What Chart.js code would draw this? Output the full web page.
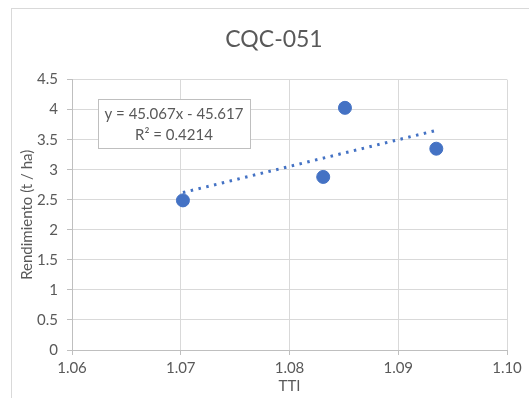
<!DOCTYPE html>
<html>
<head>
<meta charset="utf-8">
<script src="https://cdn.jsdelivr.net/npm/chart.js@4"></script>
<style>
  html, body { margin: 0; padding: 0; background: #fff; }
  #wrap { width: 529px; height: 398px; position: relative; }
</style>
</head>
<body>
<div id="wrap"><canvas id="chart" width="529" height="398"></canvas></div>
<script>
// données
const tti = [1.0702, 1.0831, 1.0851, 1.0935];
const rendimiento = [2.49, 2.88, 4.03, 3.35];
const xTicks = [1.06, 1.07, 1.08, 1.09, 1.10];
const equationLines = ['y = 45.067x - 45.617', 'R² = 0.4214'];

const grey = '#595959';
const blue = '#4472C4';

// droite de tendance (moindres carrés) entre le min et le max de x
function trendPoints(xs, ys) {
    const n = xs.length;
    const mx = xs.reduce((a, b) => a + b, 0) / n;
    const my = ys.reduce((a, b) => a + b, 0) / n;
    let sxy = 0, sxx = 0;
    xs.forEach((x, i) => { sxy += (x - mx) * (ys[i] - my); sxx += (x - mx) * (x - mx); });
    const slope = sxy / sxx;
    const b = my - slope * mx;
    const x0 = Math.min(...xs), x1 = Math.max(...xs);
    return [{ x: x0, y: slope * x0 + b }, { x: x1, y: slope * x1 + b }];
}

const cadre = {
    id: 'cadre',
    afterLayout(chart) {
        // le titre est centré sur le cadre Excel, pas sur la zone du graphique
        chart.titleBlock.left += 30;
    },
    beforeDraw(chart) {
        const ctx = chart.ctx;
        ctx.save();
        ctx.fillStyle = '#fff';
        ctx.fillRect(0, 0, chart.width, chart.height);
        ctx.strokeStyle = '#d9d9d9';
        ctx.lineWidth = 1;
        ctx.strokeRect(11.5, 8.5, chart.width + 10, chart.height + 10);
        ctx.restore();
    }
};

const equation = {
    id: 'equation',
    afterDraw(chart) {
        const ctx = chart.ctx;
        ctx.save();
        ctx.fillStyle = '#fff';
        ctx.fillRect(98, 99, 152, 49);
        ctx.strokeStyle = '#bfbfbf';
        ctx.lineWidth = 1;
        ctx.strokeRect(98.5, 99.5, 152, 49);
        ctx.fillStyle = grey;
        ctx.font = '15px Lato';
        ctx.textAlign = 'center';
        ctx.textBaseline = 'middle';
        ctx.fillText(equationLines[0], 174, 114);
        ctx.fillText(equationLines[1], 174, 135);
        ctx.restore();
    }
};

new Chart(document.getElementById('chart'), {
    type: 'scatter',
    data: {
        datasets: [{
            label: 'Rendimiento',
            data: tti.map((x, i) => ({ x: x, y: rendimiento[i] })),
            backgroundColor: blue,
            borderColor: blue,
            pointRadius: 6.5,
            pointHoverRadius: 6.5
        }, {
            label: 'Tendencia',
            type: 'line',
            data: trendPoints(tti, rendimiento),
            borderColor: blue,
            borderWidth: 3,
            borderDash: [2.5, 5.5],
            pointRadius: 0,
            fill: false
        }]
    },
    options: {
        responsive: false,
        animation: false,
        layout: { padding: { top: 8, left: 11, right: 22, bottom: 0 } },
        plugins: {
            legend: { display: false },
            tooltip: { enabled: false },
            title: {
                display: true,
                text: 'CQC-051',
                color: grey,
                font: { family: 'Lato', size: 23, weight: 'normal' },
                padding: { top: 18, bottom: 26 }
            }
        },
        scales: {
            x: {
                type: 'linear',
                min: 1.06,
                max: 1.10,
                afterBuildTicks: s => { s.ticks = xTicks.map(v => ({ value: v })); },
                afterFit: s => { s.height = 48; },
                ticks: {
                    color: grey,
                    font: { family: 'Lato', size: 15 },
                    padding: 4,
                    callback: v => Number(v).toFixed(2)
                },
                grid: { color: '#d9d9d9', tickColor: '#bfbfbf', tickLength: 5 },
                border: { color: '#bfbfbf' },
                title: {
                    display: true,
                    text: 'TTI',
                    color: grey,
                    font: { family: 'Lato', size: 15 },
                    padding: { top: 0, bottom: 3 }
                }
            },
            y: {
                min: 0,
                max: 4.5,
                afterFit: s => { s.width = 61; },
                ticks: {
                    stepSize: 0.5,
                    color: grey,
                    font: { family: 'Lato', size: 15 },
                    padding: 9,
                    callback: v => String(Math.round(v * 10) / 10)
                },
                grid: { color: '#d9d9d9', tickColor: '#bfbfbf', tickLength: 5 },
                border: { color: '#bfbfbf' },
                title: {
                    display: true,
                    text: 'Rendimiento (t / ha)',
                    color: grey,
                    font: { family: 'Lato', size: 15 },
                    padding: { top: 7, bottom: 0 }
                }
            }
        }
    },
    plugins: [cadre, equation]
});
</script>
</body>
</html>
